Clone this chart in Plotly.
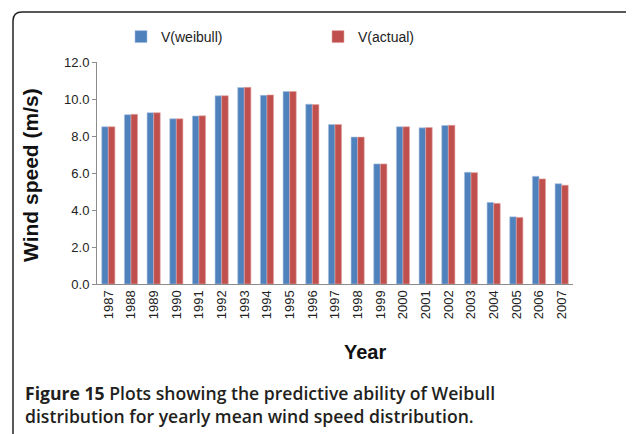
import plotly.graph_objects as go

years = [str(y) for y in range(1987, 2008)]
v_weibull = [8.50, 9.15, 9.26, 8.93, 9.08, 10.17, 10.62, 10.20, 10.40, 9.72, 8.62,
             7.94, 6.49, 8.50, 8.44, 8.57, 6.04, 4.41, 3.63, 5.82, 5.42]
v_actual = [8.50, 9.17, 9.26, 8.93, 9.09, 10.18, 10.63, 10.22, 10.41, 9.70, 8.62,
            7.94, 6.49, 8.50, 8.46, 8.58, 6.02, 4.36, 3.60, 5.68, 5.34]
y_ticks = [0, 2, 4, 6, 8, 10, 12]
y_tick_text = ["0.0", "2.0", "4.0", "6.0", "8.0", "10.0", "12.0"]

W, H = 634, 434
OFF = 8  # page body margin
L, T = 97 - OFF, 62 - OFF
pw, ph = 476, 222
R = W - L - pw
B = H - T - ph

def px(x):
    return (x - OFF - L) / pw

def py(y):
    return (T + ph - (y - OFF)) / ph

fig = go.Figure()
fig.add_trace(go.Bar(name="V(weibull)", x=years, y=v_weibull,
                     marker=dict(color="#4F81BD", line=dict(color="#A9C1E0", width=0.6))))
fig.add_trace(go.Bar(name="V(actual)", x=years, y=v_actual,
                     marker=dict(color="#C0504D", line=dict(color="#E2A8A6", width=0.6))))

# frame with rounded corners
x0, x1 = px(13), px(637)
y0, y1 = py(445), py(12)
rx, ry = 9 / pw, 9 / ph
path = (f"M {x0},{y1-ry} Q {x0},{y1} {x0+rx},{y1} L {x1-rx},{y1} Q {x1},{y1} {x1},{y1-ry} "
        f"L {x1},{y0+ry} Q {x1},{y0} {x1-rx},{y0} L {x0+rx},{y0} Q {x0},{y0} {x0},{y0+ry} Z")
fig.add_shape(type="path", path=path, xref="paper", yref="paper",
              line=dict(color="#222222", width=1.5), layer="above")

fig.add_annotation(text="<b>Figure 15</b> Plots showing the predictive ability of Weibull<br>"
                        "distribution for yearly mean wind speed distribution.",
                   xref="paper", yref="paper", x=px(23), y=py(404),
                   xanchor="left", yanchor="middle", showarrow=False, align="left",
                   font=dict(family="Open Sans", size=17.6, color="#231F20", weight=600))

fig.add_annotation(text="<b>Year</b>", xref="paper", yref="paper", x=px(365), y=py(352),
                   xanchor="center", yanchor="middle", showarrow=False,
                   font=dict(family="Liberation Sans, Arial", size=20, color="#111111"))

fig.add_annotation(text="<b>Wind speed (m/s)</b>", xref="paper", yref="paper",
                   x=px(30), y=py(175), textangle=-90,
                   xanchor="center", yanchor="middle", showarrow=False,
                   font=dict(family="Liberation Sans, Arial", size=21, color="#111111"))

fig.update_layout(
    width=W, height=H,
    margin=dict(l=L, r=R, t=T, b=B, autoexpand=False),
    paper_bgcolor="white", plot_bgcolor="white",
    barmode="group", bargap=0.42, bargroupgap=0.0,
    font=dict(family="Liberation Sans, Arial", size=13, color="#222222"),
    showlegend=True,
    legend=dict(orientation="h", x=px(121), y=py(37), xanchor="left", yanchor="middle",
                entrywidth=152, entrywidthmode="pixels", itemwidth=30,
                font=dict(size=14, family="Liberation Sans, Arial"), bgcolor="rgba(0,0,0,0)"),
    xaxis=dict(tickangle=-90, showline=True, linecolor="#8C8C8C", linewidth=1.2,
               ticks="", tickfont=dict(size=13)),
    yaxis=dict(range=[0, 12], tickvals=y_ticks, ticktext=y_tick_text,
               showline=True, linecolor="#8C8C8C", linewidth=1,
               ticks="outside", ticklen=4, tickcolor="#8C8C8C",
               showgrid=False, zeroline=False, tickfont=dict(size=13)),
)

fig.write_html("out.html")
